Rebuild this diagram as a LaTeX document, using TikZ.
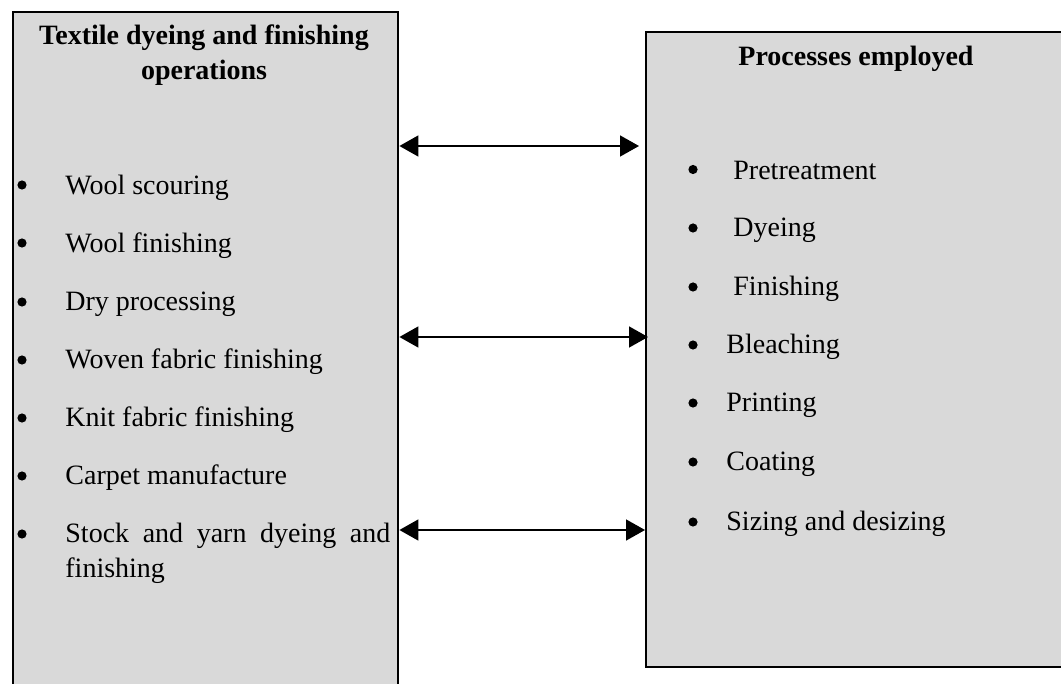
\documentclass[tikz,border=0pt]{standalone}
\usepackage{fontspec}
\setmainfont{Liberation Serif}
\usepackage{tikz}
\usetikzlibrary{arrows.meta, positioning}
\definecolor{panelgray}{HTML}{D9D9D9}

\begin{document}
\begin{tikzpicture}[x=0.5pt, y=-0.5pt,
            panel/.style={draw, line width=1.2pt, fill=panelgray, rectangle, anchor=north west, inner sep=0pt},
            head/.style={font=\fontsize{14}{17.5}\selectfont\bfseries, align=center},
            item/.style={font=\fontsize{14}{17.5}\selectfont, anchor=west, inner sep=0pt},
            dot/.style={circle, fill=black, inner sep=0pt, minimum size=4.6pt},
            link/.style={{Triangle[length=9.5pt,width=10.5pt]}-{Triangle[length=9.5pt,width=10.5pt]}, line width=0.8pt}]

            \useasboundingbox (0,0) rectangle (1061,684);

            % two panels
            \node[panel, minimum width=192.5pt, minimum height=344.5pt] (ops) at (12,11) {};
            \node[panel, minimum width=211pt, minimum height=317.5pt] (proc) at (645,31) {};

            \node[head] (opstitle) at (204,55) {Textile dyeing and finishing\\operations};
            \node[head] (proctitle) at (856,59) {Processes employed};

            % left list
            \node[dot] (d1) at (22,185) {};
            \node[item] (scour) at (65,188) {Wool scouring};
            \node[dot] (d2) at (22,243) {};
            \node[item] (woolfin) at (65,246) {Wool finishing};
            \node[dot] (d3) at (22,302) {};
            \node[item] (dry) at (65,304) {Dry processing};
            \node[dot] (d4) at (22,360) {};
            \node[item] (woven) at (65,362) {Woven fabric finishing};
            \node[dot] (d5) at (22,418) {};
            \node[item] (knit) at (65,420) {Knit fabric finishing};
            \node[dot] (d6) at (22,476) {};
            \node[item] (carpet) at (65,478) {Carpet manufacture};
            \node[dot] (d7) at (22,534) {};
            \node[item] (stock) at (65,536) {\makebox[162.5pt][s]{Stock and yarn dyeing and}};
            \node[item] (stock2) at (65,571) {finishing};

            % right list
            \node[dot] (e1) at (693,169.5) {};
            \node[item] (pre) at (733,170) {Pretreatment};
            \node[dot] (e2) at (693,228) {};
            \node[item] (dye) at (733,230) {Dyeing};
            \node[dot] (e3) at (693,287) {};
            \node[item] (fin) at (733,289) {Finishing};
            \node[dot] (e4) at (693,345) {};
            \node[item] (bleach) at (726,347) {Bleaching};
            \node[dot] (e5) at (693,403) {};
            \node[item] (print) at (726,405) {Printing};
            \node[dot] (e6) at (693,462) {};
            \node[item] (coat) at (726,464) {Coating};
            \node[dot] (e7) at (693,522) {};
            \node[item] (size) at (726,524) {Sizing and desizing};

            % links between panels
            \coordinate (t1) at (639,146);
            \coordinate (t2) at (648,337);
            \coordinate (t3) at (645,530);
            \draw[link] (ops.east |- t1) -- (t1);
            \draw[link] (ops.east |- t2) -- (t2);
            \draw[link] (ops.east |- t3) -- (t3);
        \end{tikzpicture}
\end{document}
